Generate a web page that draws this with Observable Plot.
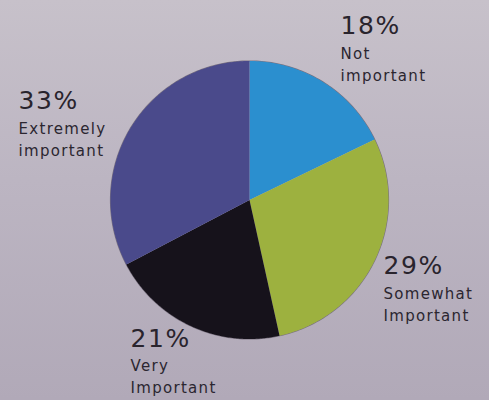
<!DOCTYPE html>
<html>
<head>
<meta charset="utf-8">
<script src="https://cdn.jsdelivr.net/npm/d3@7"></script>
<script src="https://cdn.jsdelivr.net/npm/@observablehq/plot@0.6"></script>
<style>
  html, body { margin: 0; padding: 0; }
  body {
    width: 489px; height: 400px; overflow: hidden;
    background: linear-gradient(180deg, #c7c1ca 0%, #bcb5c2 45%, #b1a9b8 100%);
  }
  #chart svg { display: block; background: transparent; }
  #chart g[font-size="25"] text { letter-spacing: 1.6px; }
  #chart g[font-size="15"] text { letter-spacing: 1.3px; }
</style>
</head>
<body>
<div id="chart"></div>
<script>
// ---- data ----
const categories = ["Not important", "Somewhat important", "Very Important", "Extremely important"];
const values = [18, 29, 21, 33];
const pctLabels = ["18%", "29%", "21%", "33%"];
const nameLabels = ["Not\nimportant", "Somewhat\nImportant", "Very\nImportant", "Extremely\nimportant"];
const colors = ["#2b8fcf", "#9db13f", "#16121b", "#4a4a8b"];

// ---- layout (pixel space) ----
const W = 489, H = 400;
const cx = 249, cy = 199.5, R = 139;
const labelAt = {
  "Not important":       {x: 340, pctBase: 33,  nameBase: 53},
  "Somewhat important":  {x: 383, pctBase: 273, nameBase: 293},
  "Very Important":      {x: 130, pctBase: 346, nameBase: 365},
  "Extremely important": {x: 18,  pctBase: 108, nameBase: 128}
};

const rows = categories.map((c, i) => ({cat: c, value: values[i], pct: pctLabels[i], name: nameLabels[i]}));
const arcs = d3.pie().sort(null).value(d => d.value)(rows);

// slice outlines sampled along the arc
const pts = [];
for (const a of arcs) {
  pts.push({cat: a.data.cat, x: cx, y: cy});
  const n = Math.max(8, Math.ceil((a.endAngle - a.startAngle) / 0.01));
  for (let k = 0; k <= n; k++) {
    const t = a.startAngle + (a.endAngle - a.startAngle) * k / n;
    pts.push({cat: a.data.cat, x: cx + R * Math.sin(t), y: cy - R * Math.cos(t)});
  }
}
const rim = d3.range(0, 361).map(d => {
  const t = d * Math.PI / 180;
  return {x: cx + R * Math.sin(t), y: cy - R * Math.cos(t)};
});

const pctFs = 25, nameFs = 15;
const plot = Plot.plot({
  width: W, height: H, margin: 0,
  style: {background: "transparent", fontFamily: "DejaVu Sans, sans-serif"},
  x: {domain: [0, W], range: [0, W], axis: null},
  y: {domain: [0, H], range: [0, H], axis: null},
  color: {domain: categories, range: colors},
  marks: [
    Plot.line(rim, {x: "x", y: "y", stroke: "#7a7280", strokeWidth: 1.2, curve: "linear-closed"}),
    Plot.line(pts, {x: "x", y: "y", z: "cat", fill: "cat", stroke: "none", curve: "linear-closed"}),
    Plot.text(rows, {
      x: d => labelAt[d.cat].x, y: d => labelAt[d.cat].pctBase - 0.71 * pctFs,
      text: "pct", textAnchor: "start", lineAnchor: "top",
      fontSize: pctFs, fill: "#29242d"
    }),
    Plot.text(rows, {
      x: d => labelAt[d.cat].x, y: d => labelAt[d.cat].nameBase - 0.71 * nameFs,
      text: "name", textAnchor: "start", lineAnchor: "top", lineHeight: 1.5,
      fontSize: nameFs, fill: "#2b2630"
    })
  ]
});
document.getElementById("chart").appendChild(plot);
</script>
</body>
</html>
